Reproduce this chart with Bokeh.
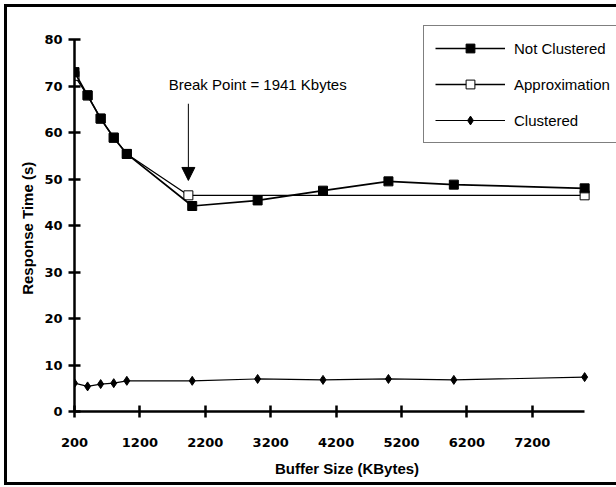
from bokeh.plotting import figure
from bokeh.models import (Range1d, FixedTicker, Legend, LegendItem, Arrow, NormalHead, Label)
from bokeh.embed import file_html
from bokeh.resources import INLINE

# ---- data ----
buffer_kb = [200, 400, 600, 800, 1000, 2000, 3000, 4000, 5000, 6000, 8000]
not_clustered = [73.0, 68.0, 63.0, 58.9, 55.4, 44.2, 45.4, 47.5, 49.5, 48.8, 48.0]
clustered = [6.1, 5.4, 5.9, 6.1, 6.6, 6.6, 7.0, 6.8, 7.0, 6.8, 7.4]
approx_kb = [200, 400, 600, 800, 1000, 1941, 8000]
approximation = [72.2, 68.0, 63.0, 58.9, 55.4, 46.5, 46.5]
break_point = 1941
x_ticks = [200, 1200, 2200, 3200, 4200, 5200, 6200, 7200]
y_ticks = [0, 10, 20, 30, 40, 50, 60, 70, 80]

p = figure(width=609, height=475, output_backend="svg", toolbar_location=None,
           x_range=Range1d(200, 8533), y_range=Range1d(0, 86.9),
           min_border_left=67, min_border_right=0, min_border_top=0, min_border_bottom=77)
p.styles = {"box-sizing": "content-box", "margin": "4px 0 0 4px",
            "border-left": "3px solid black", "border-right": "none",
            "border-top": "3px solid black", "border-bottom": "3px solid black"}
p.outline_line_color = None
p.grid.visible = False
p.background_fill_color = "white"
p.border_fill_color = "white"

for ax in (p.xaxis[0], p.yaxis[0]):
    ax.axis_line_width = 2.5
    ax.major_tick_line_width = 2.5
    ax.major_tick_in = 6
    ax.major_tick_out = 6
    ax.minor_tick_line_color = None
    ax.major_label_text_font = "DejaVu Sans"
    ax.major_label_text_font_style = "bold"
    ax.major_label_text_font_size = "13px"
    ax.major_label_text_color = "black"
    ax.axis_label_text_font = "Liberation Sans"
    ax.axis_label_text_font_style = "bold"
    ax.axis_label_text_font_size = "15px"
    ax.axis_label_text_color = "black"

p.xaxis.bounds = (200, 8000)
p.yaxis.bounds = (0, 80)
p.xaxis.ticker = FixedTicker(ticks=x_ticks)
p.yaxis.ticker = FixedTicker(ticks=y_ticks)
p.xaxis.axis_label = "Buffer Size (KBytes)"
# trailing no-break spaces centre the label on the 0-80 span rather than the whole frame
p.yaxis.axis_label = "Response Time (s)" + "\u00a0" * 9
p.xaxis.major_label_standoff = 20
p.xaxis.axis_label_standoff = 10
p.yaxis.major_label_standoff = 6
p.yaxis.axis_label_standoff = 5

# approximation
a_line = p.line(approx_kb, approximation, line_color="black", line_width=1.3)
a_mark = p.scatter(approx_kb, approximation, marker="square", size=9,
                   fill_color="white", line_color="black", line_width=1)
# not clustered
n_line = p.line(buffer_kb, not_clustered, line_color="black", line_width=1.7)
n_mark = p.scatter(buffer_kb, not_clustered, marker="square", size=9,
                   fill_color="black", line_color="black")
# clustered
c_line = p.line(buffer_kb, clustered, line_color="black", line_width=1.2)
c_mark = p.scatter(buffer_kb, clustered, marker="diamond", size=9,
                   fill_color="black", line_color="black")

legend = Legend(items=[
    LegendItem(label="Not Clustered", renderers=[n_line, n_mark]),
    LegendItem(label="Approximation", renderers=[a_line, a_mark]),
    LegendItem(label="Clustered", renderers=[c_line, c_mark]),
], location=(349, 268))
legend.glyph_width = 70
legend.glyph_height = 22
legend.label_height = 22
legend.label_width = 130
legend.spacing = 14
legend.padding = 11
legend.margin = 0
legend.label_standoff = 9
legend.label_text_font = "Liberation Sans"
legend.label_text_font_size = "15px"
legend.label_text_color = "black"
legend.border_line_color = "black"
legend.border_line_width = 1.5
legend.background_fill_alpha = 1
p.add_layout(legend, "center")

p.add_layout(Arrow(x_start=break_point, y_start=66.2, x_end=break_point, y_end=49.7,
                   line_color="black", line_width=1,
                   end=NormalHead(size=13, fill_color="black", line_color="black")))
p.add_layout(Label(x=1640, y=70.3, text="Break Point = " + str(break_point) + " Kbytes",
                   text_font="Liberation Sans", text_font_size="15px",
                   text_baseline="middle", text_align="left", text_color="black"))

open("out.html", "w").write(file_html(p, INLINE))
